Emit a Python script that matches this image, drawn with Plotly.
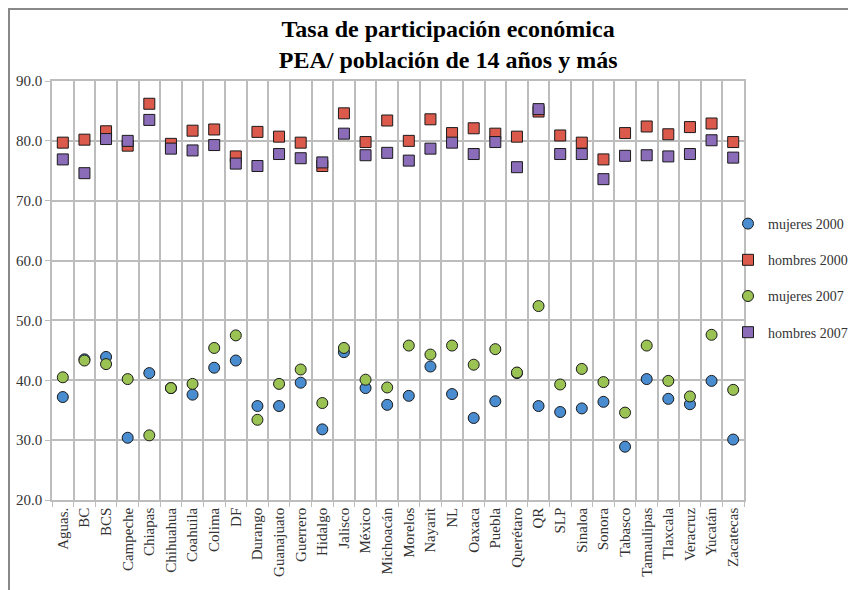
import plotly.graph_objects as go

estados = ['Aguas.', 'BC', 'BCS', 'Campeche', 'Chiapas', 'Chihuahua', 'Coahuila', 'Colima',
           'DF', 'Durango', 'Guanajuato', 'Guerrero', 'Hidalgo', 'Jalisco', 'México',
           'Michoacán', 'Morelos', 'Nayarit', 'NL', 'Oaxaca', 'Puebla', 'Querétaro', 'QR',
           'SLP', 'Sinaloa', 'Sonora', 'Tabasco', 'Tamaulipas', 'Tlaxcala', 'Veracruz',
           'Yucatán', 'Zacatecas']

mujeres_2000 = [37.2, 43.5, 43.9, 30.4, 41.2, 38.7, 37.6, 42.1, 43.3, 35.7, 35.7, 39.6,
                31.8, 44.7, 38.7, 35.9, 37.4, 42.3, 37.7, 33.7, 36.5, 41.2, 35.7, 34.7,
                35.3, 36.4, 28.9, 40.2, 36.9, 36.0, 39.9, 30.1]
hombres_2000 = [79.7, 80.2, 81.6, 79.2, 86.2, 79.5, 81.7, 81.9, 77.4, 81.5, 80.7, 79.7,
                75.8, 84.6, 79.8, 83.4, 80.0, 83.6, 81.3, 82.1, 81.2, 80.7, 84.9, 80.9,
                79.7, 76.9, 81.3, 82.4, 81.1, 82.3, 82.9, 79.8]
mujeres_2007 = [40.5, 43.3, 42.7, 40.2, 30.8, 38.7, 39.4, 45.4, 47.5, 33.4, 39.4, 41.8,
                36.2, 45.4, 40.1, 38.8, 45.8, 44.3, 45.8, 42.6, 45.2, 41.3, 52.4, 39.3,
                41.9, 39.7, 34.6, 45.8, 39.9, 37.3, 47.6, 38.4]
hombres_2007 = [76.9, 74.6, 80.3, 80.0, 83.5, 78.7, 78.4, 79.3, 76.2, 75.8, 77.8, 77.1,
                76.4, 81.2, 77.6, 78.0, 76.7, 78.7, 79.7, 77.8, 79.8, 75.6, 85.3, 77.8,
                77.8, 73.6, 77.5, 77.6, 77.4, 77.8, 80.1, 77.2]

series = [
    ('mujeres 2000', mujeres_2000, 'circle', '#4A8CD0'),
    ('hombres 2000', hombres_2000, 'square', '#DC5A4C'),
    ('mujeres 2007', mujeres_2007, 'circle', '#9BC354'),
    ('hombres 2007', hombres_2007, 'square', '#8A6CB8'),
]

# the page puts the figure 8px in from the top-left corner, so the figure is
# sized 848x582 to fit the window
W, H = 848, 582
L, R, T, B = 44, 112, 73, 90
pw, ph = W - L - R, H - T - B

fig = go.Figure()
for i, (name, vals, sym, col) in enumerate(series):
    fig.add_trace(go.Scatter(x=estados, y=vals, mode='markers', name=name,
                             legendgroup=str(i),
                             marker=dict(symbol=sym, size=11, color=col,
                                         line=dict(color='#1a1a1a', width=1))))

fig.update_layout(
    width=W, height=H,
    margin=dict(l=L, r=R, t=T, b=B, autoexpand=False),
    paper_bgcolor='white', plot_bgcolor='white',
    font=dict(family='Liberation Serif', size=15, color='#333333'),
    title=dict(text='<b>Tasa de participación económica<br>PEA/ población de 14 años y más</b>',
               x=0.519, xanchor='center', y=0.951, yanchor='top',
               font=dict(family='Liberation Serif', size=24, color='black')),
    legend=dict(x=(720 - L) / pw, y=(H - B - 200) / ph, xanchor='left', yanchor='top',
                font=dict(family='Liberation Serif', size=14, color='#333333'),
                tracegroupgap=15, itemwidth=30, bgcolor='rgba(0,0,0,0)'),
    showlegend=True,
)
fig.update_xaxes(type='category', range=[-0.5, len(estados) - 0.5],
                 tickson='boundaries', tickangle=-90,
                 showgrid=True, gridcolor='#bdbdbd', gridwidth=1.5,
                 showline=True, linecolor='#bdbdbd', linewidth=1.5, mirror=True,
                 ticks='outside', ticklen=5, tickcolor='#bdbdbd',
                 tickfont=dict(size=15, color='#333333'))
fig.update_yaxes(range=[20, 90], dtick=10, tickformat='.1f',
                 showgrid=True, gridcolor='#bdbdbd', gridwidth=1.5,
                 showline=True, linecolor='#bdbdbd', linewidth=1.5, mirror=True,
                 ticks='outside', ticklen=5, tickcolor='#bdbdbd',
                 zeroline=False, tickfont=dict(size=15, color='#333333'))

# outer chart frame
fig.add_shape(type='rect', xref='paper', yref='paper',
              x0=(1 - L) / pw, x1=(W - 4 - L) / pw,
              y0=(H - B - 620) / ph, y1=(H - B - 1) / ph,
              line=dict(color='#888888', width=2))

fig.write_html("out.html")
